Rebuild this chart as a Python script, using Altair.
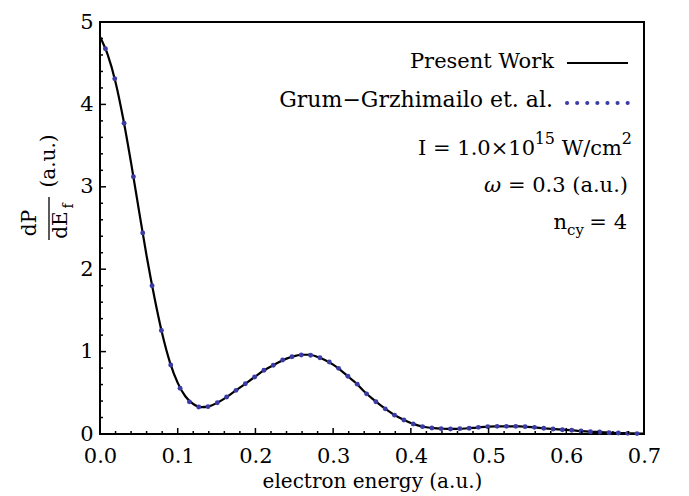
import altair as alt
import pandas as pd

# ---- data ----
energy_line = [0.00, 0.01, 0.02, 0.03, 0.04, 0.05, 0.06, 0.07, 0.08, 0.09,
               0.10, 0.11, 0.12, 0.13, 0.14, 0.15, 0.16, 0.17, 0.18, 0.19,
               0.20, 0.21, 0.22, 0.23, 0.24, 0.25, 0.26, 0.27, 0.28, 0.29,
               0.30, 0.31, 0.32, 0.33, 0.34, 0.35, 0.36, 0.37, 0.38, 0.39,
               0.40, 0.41, 0.42, 0.43, 0.44, 0.45, 0.46, 0.47, 0.48, 0.49,
               0.50, 0.51, 0.52, 0.53, 0.54, 0.55, 0.56, 0.57, 0.58, 0.59,
               0.60, 0.61, 0.62, 0.63, 0.64, 0.65, 0.66, 0.67, 0.68, 0.69, 0.70]
dp_line = [4.82, 4.60, 4.27, 3.82, 3.29, 2.72, 2.16, 1.66, 1.22, 0.87,
           0.62, 0.455, 0.364, 0.325, 0.335, 0.375, 0.43, 0.496, 0.563, 0.63,
           0.699, 0.766, 0.819, 0.871, 0.915, 0.945, 0.962, 0.962, 0.935, 0.896,
           0.842, 0.773, 0.692, 0.613, 0.516, 0.432, 0.356, 0.286, 0.224, 0.175,
           0.133, 0.102, 0.082, 0.071, 0.065, 0.061, 0.063, 0.067, 0.074, 0.083,
           0.089, 0.092, 0.093, 0.093, 0.092, 0.087, 0.080, 0.070, 0.063, 0.056,
           0.049, 0.043, 0.035, 0.029, 0.025, 0.019, 0.014, 0.011, 0.008, 0.006, 0.005]

energy_dots = [0.007, 0.019, 0.031, 0.043, 0.055, 0.067, 0.079, 0.091, 0.103, 0.115,
               0.127, 0.139, 0.151, 0.163, 0.175, 0.187, 0.199, 0.211, 0.223, 0.235,
               0.247, 0.259, 0.271, 0.283, 0.295, 0.307, 0.319, 0.331, 0.343, 0.355,
               0.367, 0.379, 0.391, 0.403, 0.415, 0.427, 0.439, 0.451, 0.463, 0.475,
               0.487, 0.499, 0.511, 0.523, 0.535, 0.547, 0.559, 0.571, 0.583, 0.595,
               0.607, 0.619, 0.631, 0.643, 0.655, 0.667, 0.679, 0.691]
dp_dots = [4.676, 4.312, 3.771, 3.123, 2.439, 1.800, 1.256, 0.837, 0.555, 0.390,
           0.328, 0.332, 0.380, 0.449, 0.530, 0.610, 0.692, 0.773, 0.834, 0.898,
           0.938, 0.959, 0.955, 0.926, 0.874, 0.797, 0.700, 0.605, 0.487, 0.392,
           0.305, 0.229, 0.170, 0.121, 0.089, 0.073, 0.065, 0.061, 0.065, 0.069,
           0.081, 0.089, 0.093, 0.093, 0.093, 0.089, 0.081, 0.069, 0.061, 0.052,
           0.045, 0.036, 0.028, 0.024, 0.016, 0.012, 0.008, 0.005]

x_major = [0.0, 0.1, 0.2, 0.3, 0.4, 0.5, 0.6, 0.7]
x_minor = [0.02, 0.04, 0.06, 0.08, 0.12, 0.14, 0.16, 0.18, 0.22, 0.24, 0.26, 0.28,
           0.32, 0.34, 0.36, 0.38, 0.42, 0.44, 0.46, 0.48, 0.52, 0.54, 0.56, 0.58,
           0.62, 0.64, 0.66, 0.68]
y_major = [0, 1, 2, 3, 4, 5]
y_minor = [0.2, 0.4, 0.6, 0.8, 1.2, 1.4, 1.6, 1.8, 2.2, 2.4, 2.6, 2.8,
           3.2, 3.4, 3.6, 3.8, 4.2, 4.4, 4.6, 4.8]

series_names = ["Present Work", "Grum\u2212Grzhimailo et. al."]

FONT = "DejaVu Serif"
DOT = "#3b3ba6"
W, H = 544, 412

xs = alt.Scale(domain=[0, 0.7], nice=False, zero=False)
ys = alt.Scale(domain=[0, 5], nice=False, zero=False)
x_axis = alt.Axis(values=x_major, format=".1f", title="electron energy (a.u.)",
                  labelPadding=11, titlePadding=5, labelFlush=False)
y_axis = alt.Axis(values=y_major, format="d", title="", labelPadding=7, labelFlush=False)

df_line = pd.DataFrame({"x": energy_line, "y": dp_line})
df_dots = pd.DataFrame({"x": energy_dots, "y": dp_dots})
one = pd.DataFrame({"k": [0]})

line = alt.Chart(df_line).mark_line(color="black", strokeWidth=2.2, interpolate="monotone").encode(
    x=alt.X("x:Q", scale=xs, axis=x_axis),
    y=alt.Y("y:Q", scale=ys, axis=y_axis),
)

dots = alt.Chart(df_dots).mark_circle(size=24, color=DOT, opacity=1).encode(
    x=alt.X("x:Q", scale=xs, axis=x_axis),
    y=alt.Y("y:Q", scale=ys, axis=y_axis),
)


def xticks(vals, length):
    return alt.Chart(pd.DataFrame({"x": vals})).mark_rule(color="black", strokeWidth=1.5).encode(
        x=alt.X("x:Q", scale=xs, axis=x_axis), y=alt.value(H), y2=alt.value(H - length))


def yticks(vals, length):
    return alt.Chart(pd.DataFrame({"y": vals})).mark_rule(color="black", strokeWidth=1.5).encode(
        y=alt.Y("y:Q", scale=ys, axis=y_axis), x=alt.value(0), x2=alt.value(length))


def txt(text, x, y, size=21, align="right", style="normal", angle=0, baseline="alphabetic"):
    return alt.Chart(one).mark_text(text=text, font=FONT, fontSize=size, align=align, fontStyle=style,
                                    angle=angle, baseline=baseline, color="black").encode(
        x=alt.value(x), y=alt.value(y))


# legend
leg_line = alt.Chart(one).mark_rule(color="black", strokeWidth=2).encode(
    x=alt.value(467), x2=alt.value(528), y=alt.value(41))
leg_dots = alt.Chart(one).mark_rule(color=DOT, strokeWidth=4, strokeDash=[0.1, 10], strokeCap="round").encode(
    x=alt.value(467), x2=alt.value(528), y=alt.value(81))

texts = [
    txt(series_names[0], 454, 46),
    txt(series_names[1], 453, 85, size=22),
    txt("I = 1.0\u00d710", 435, 133),
    txt("15", 455, 122, size=16),
    txt("W/cm", 522, 133),
    txt("2", 532, 122, size=16),
    txt("\u03c9", 401, 170, style="italic"),
    txt("= 0.3 (a.u.)", 528, 170),
    txt("n", 467, 207),
    txt("cy", 467, 213, size=15, align="left"),
    txt("= 4", 527, 207),
    # rotated y title
    txt("dP", -70, 201, size=20, align="center", angle=270, baseline="middle"),
    txt("dE", -39, 203, size=20, align="center", angle=270, baseline="middle"),
    txt("f", -31, 184, size=14, align="center", angle=270, baseline="middle"),
    txt("(a.u.)", -51, 139, size=20, align="center", angle=270, baseline="middle"),
]
frac_bar = alt.Chart(one).mark_rule(color="black", strokeWidth=1.3).encode(
    x=alt.value(-51), y=alt.value(175), y2=alt.value(218))

chart = alt.layer(
    line, dots,
    xticks(x_major, 6), xticks(x_minor, 3), yticks(y_major, 6), yticks(y_minor, 3),
    leg_line, leg_dots, frac_bar, *texts,
).properties(
    width=W, height=H,
    padding={"left": 92, "top": 14, "right": 35, "bottom": 60},
    autosize=alt.AutoSizeParams(type="none"),
).configure_view(
    stroke="black", strokeWidth=2
).configure_axis(
    ticks=False, domain=False, grid=False,
    labelFont=FONT, labelFontSize=21, labelColor="black",
    titleFont=FONT, titleFontSize=20, titleFontWeight="normal", titleColor="black",
)

chart.save("out.html", embed_options={"renderer": "svg", "actions": False})
